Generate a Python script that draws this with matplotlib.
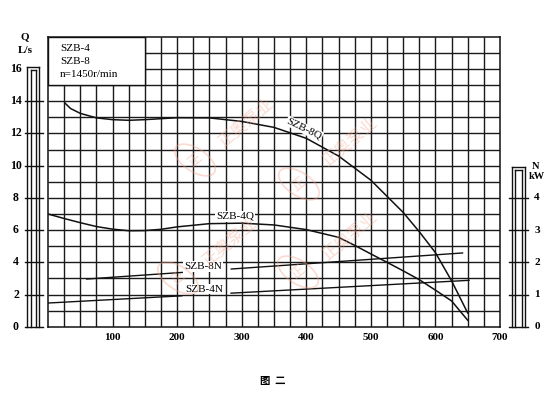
import numpy as np
import matplotlib
matplotlib.use("Agg")
import matplotlib.pyplot as plt
from matplotlib.patches import Rectangle, Ellipse
from matplotlib.transforms import blended_transform_factory

plt.rcParams['font.family'] = ['Liberation Serif', 'Noto Sans CJK SC', 'DejaVu Sans']

# === data ===
# flow curves Q [L/s] vs x
q8_x = [26, 35, 50, 75, 100, 125, 150, 200, 250, 300, 350, 400, 450, 500, 550, 575, 600, 625, 650]
q8_q = [13.9, 13.55, 13.25, 12.97, 12.86, 12.82, 12.86, 12.98, 12.97, 12.75, 12.38, 11.7, 10.6, 9.1, 7.1, 5.9, 4.6, 2.85, 0.85]

q4_x = [0, 25, 50, 75, 100, 125, 150, 175, 200, 250, 300, 350, 400, 450, 475, 500, 525, 550, 575, 600, 625, 650]
q4_q = [7.0, 6.72, 6.46, 6.22, 6.06, 5.96, 5.97, 6.05, 6.2, 6.4, 6.43, 6.32, 6.03, 5.55, 5.05, 4.52, 4.0, 3.47, 2.92, 2.27, 1.6, 0.4]

# power lines N [kW]
n8_x = [60, 642]
n8_n = [1.48, 2.29]
n4_x = [0, 652]
n4_n = [0.735, 1.44]
label_gap = (209, 282)

q_ticks = [0, 2, 4, 6, 8, 10, 12, 14, 16]
n_ticks = [0, 1, 2, 3, 4]
x_ticks = [100, 200, 300, 400, 500, 600, 700]
header = ["SZB-4", "SZB-8", "n=1450r/min"]

W, H = 555, 394
fig = plt.figure(figsize=(W / 100, H / 100), dpi=100)
ax = fig.add_axes([48 / W, 1 - 326.7 / H, 452 / W, 289.8 / H])
ax.set_xlim(0, 700)
ax.set_ylim(0, 18)
ax.set_xticks([])
ax.set_yticks([])
for s in ax.spines.values():
    s.set_linewidth(1.1)
    s.set_color('#111111')

# grid
ax.vlines(np.arange(25, 700, 25), 0, 18, color='#1a1a1a', lw=1.0, zorder=1)
ax.hlines(np.arange(1, 18, 1), 0, 700, color='#1a1a1a', lw=1.0, zorder=1)

# watermark (faint)
wm_col = '#f4a48a'
for (cx, cy), (tx, ty) in [((195, 160), (246, 123)), ((299, 184), (350, 142)),
                           ((178, 278), (230, 242)), ((298, 272), (350, 236))]:
    fig.patches.append(Ellipse((cx / W, 1 - cy / H), 28 / W, 38 / H, angle=40,
                               fill=False, ec=wm_col, lw=1.2, alpha=0.4,
                               transform=fig.transFigure, zorder=2))
    fig.text(cx / W, 1 - cy / H, "正", color=wm_col, fontsize=10, rotation=40,
             ha='center', va='center', alpha=0.4, family=['Noto Sans CJK SC'], zorder=2)
    fig.text(tx / W, 1 - ty / H, "正奥泵业", color=wm_col, fontsize=12, rotation=40,
             ha='center', va='center', alpha=0.4,
             family=['Noto Sans CJK SC'], zorder=2)

# header box
ax.add_patch(Rectangle((0, 15), 150, 3, facecolor='white', edgecolor='#111111', lw=1.0, zorder=3))
for i, t in enumerate(header):
    ax.text(18.6, 17.25 - i * 0.78, t, fontsize=8, va='center', ha='left', zorder=4)

# Q curves
ax.plot(q8_x, q8_q, color='#111111', lw=1.1, zorder=5)
ax.plot(q4_x, q4_q, color='#111111', lw=1.1, zorder=5)

# N lines (plotted on the Q scale, N = Q / 2), broken under labels
for nx, nn in [(n8_x, n8_n), (n4_x, n4_n)]:
    xs = np.linspace(nx[0], nx[1], 300)
    ys = np.interp(xs, nx, np.array(nn) * 2)
    ys[(xs > label_gap[0]) & (xs < label_gap[1])] = np.nan
    ax.plot(xs, ys, color='#111111', lw=1.0, zorder=5)

box = dict(facecolor='white', edgecolor='none', pad=0.6)
ax.text(397, 12.3, "SZB-8Q", fontsize=8, rotation=-26, ha='center', va='center', zorder=6, bbox=box)
ax.text(290, 6.85, "SZB-4Q", fontsize=8, ha='center', va='center', zorder=6, bbox=box)
ax.text(240, 3.75, "SZB-8N", fontsize=8, ha='center', va='center', zorder=6, bbox=box)
ax.text(242, 2.33, "SZB-4N", fontsize=8, ha='center', va='center', zorder=6, bbox=box)

# x labels
for v in x_ticks:
    ax.text(v, -0.7, str(v), fontsize=8, weight='bold', ha='center', va='center', clip_on=False)

# left Q scale bar
tr = blended_transform_factory(ax.transAxes, ax.transData)
kw = dict(color='#111111', lw=1.0, transform=tr, clip_on=False)
for xo in (-0.0458, -0.0192):
    ax.plot([xo, xo], [0, 16.15], **kw)
for xi in (-0.0387, -0.0272):
    ax.plot([xi, xi], [0, 15.94], **kw)
ax.plot([-0.0458, -0.0192], [16.15, 16.15], **kw)
ax.plot([-0.0387, -0.0272], [15.94, 15.94], **kw)
for v in q_ticks:
    if v < 16:
        ax.plot([-0.0509, -0.0111], [v, v], **kw)
    ax.text(-0.0708, v, str(v), transform=tr, fontsize=8.5, weight='bold',
            ha='center', va='center', clip_on=False)
ax.text(-0.0509, 18.0, "Q", transform=tr, fontsize=8, weight='bold', ha='center', va='center')
ax.text(-0.050, 17.15, "L/s", transform=tr, fontsize=8, weight='bold', ha='center', va='center')

# right N scale bar
for xo in (1.0259, 1.0553):
    ax.plot([xo, xo], [0, 9.94], **kw)
for xi in (1.0332, 1.0480):
    ax.plot([xi, xi], [0, 9.73], **kw)
ax.plot([1.0259, 1.0553], [9.94, 9.94], **kw)
ax.plot([1.0332, 1.0480], [9.73, 9.73], **kw)
for v in n_ticks:
    ax.plot([1.0199, 1.0619], [2 * v, 2 * v], **kw)
    ax.text(1.0819, 2 * v, str(v), transform=tr, fontsize=8, weight='bold',
            ha='center', va='center', clip_on=False)
ax.text(1.0796, 9.98, "N", transform=tr, fontsize=7.5, weight='bold', ha='center', va='center')
ax.text(1.0819, 9.3, "kW", transform=tr, fontsize=7.5, weight='bold', ha='center', va='center')

fig.text(273 / W, 1 - 381 / H, "图  二", fontsize=7.5, weight='bold', ha='center', va='center',
         family=['Noto Sans CJK SC'])

fig.savefig("out.png", dpi=100)
